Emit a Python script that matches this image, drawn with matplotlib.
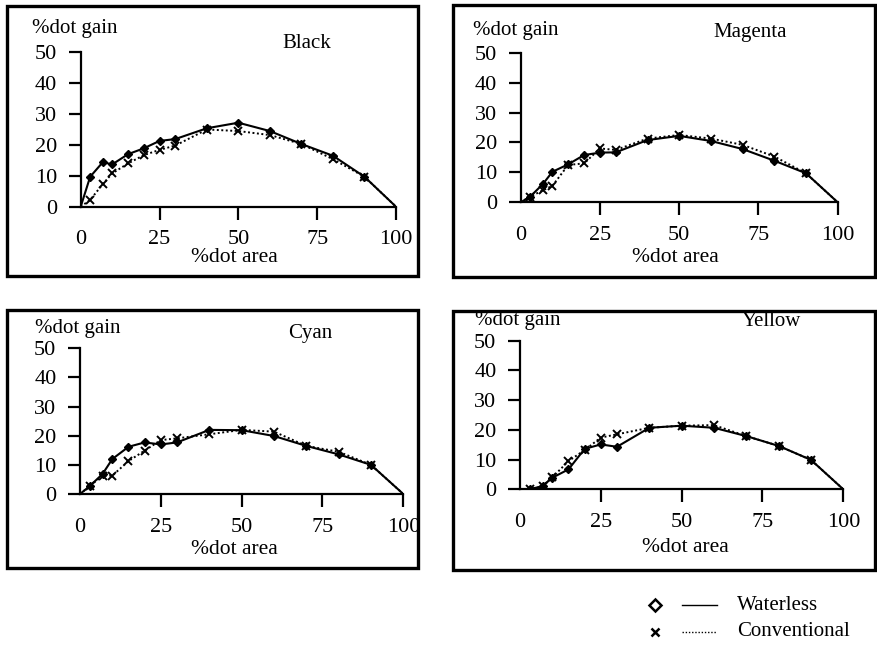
import matplotlib.pyplot as plt
from matplotlib.patches import Rectangle
from matplotlib.lines import Line2D

plt.rcParams['font.family'] = ['Liberation Serif', 'DejaVu Serif']

# Data
area = [0, 3, 7, 10, 15, 20, 25, 30, 40, 50, 60, 70, 80, 90, 100]
black_waterless = [0, 9.7, 14.4, 13.7, 17, 18.9, 21.3, 21.9, 25.4, 27.2, 24.5, 20.3, 16.5, 9.7, 0]
black_conventional = [0, 2.2, 7.3, 10.8, 14, 16.7, 18.4, 19.8, 25, 24.5, 23.2, 20.3, 15.4, 9.7, 0]
magenta_waterless = [0, 1.9, 6.1, 10.2, 12.7, 15.8, 16.6, 16.7, 20.8, 22.2, 20.5, 17.8, 13.9, 9.7, 0]
magenta_conventional = [0, 1.9, 4, 5.5, 12.5, 13, 18, 17.5, 21.3, 22.5, 21.3, 19.2, 15.3, 9.7, 0]
cyan_waterless = [0, 2.7, 6.9, 12, 16.2, 17.7, 17, 17.7, 22, 21.9, 19.9, 16.5, 13.6, 10, 0]
cyan_conventional = [0, 2.7, 6.3, 6.3, 11.3, 14.9, 18.5, 19.1, 20.5, 22, 21.4, 16.5, 14.5, 10, 0]
yellow_waterless = [0, 0, 1.1, 3.9, 6.7, 13.6, 15.1, 14.3, 20.7, 21.4, 20.7, 17.9, 14.6, 9.9, 0]
yellow_conventional = [0, 0, 1, 4, 9.5, 13.2, 17.4, 18.5, 20.7, 21.4, 21.6, 17.9, 14.6, 9.9, 0]

inks = ['Black', 'Magenta', 'Cyan', 'Yellow']
waterless = [black_waterless, magenta_waterless, cyan_waterless, yellow_waterless]
conventional = [black_conventional, magenta_conventional, cyan_conventional, yellow_conventional]
x_ticks = [0, 25, 50, 75, 100]
y_ticks = [0, 10, 20, 30, 40, 50]

W, H = 877, 650
def fx(x):
    return x / W
def fy(y):
    return 1 - y / H

# layout in pixels: axes (x0, x1, y_zero, y_fifty), frame (l, t, r, b), title centre, ylabel left, xlabel centre
layout = [
    dict(ax=(80.7, 396, 206.7, 52.3), frame=(7, 6, 418, 276), title=(307, 43), ylab=(32, 29), xlab=(234, 258)),
    dict(ax=(520.7, 837.7, 202.3, 52.7), frame=(453, 5, 875, 277), title=(750, 32), ylab=(473, 30), xlab=(675, 258)),
    dict(ax=(80, 403.3, 494, 348.3), frame=(7, 310, 418, 568), title=(310, 333), ylab=(35, 329), xlab=(234, 550)),
    dict(ax=(520, 843.3, 489.3, 340.7), frame=(453, 311, 875, 570), title=(771, 322), ylab=(475, 320), xlab=(685, 548)),
]

fig = plt.figure(figsize=(8.77, 6.5), dpi=100)

for i, ink in enumerate(inks):
    L = layout[i]
    x0, x1, yz, yf = L['ax']
    ax = fig.add_axes([fx(x0), fy(yz), (x1 - x0) / W, (yz - yf) / H])
    ax.plot(area, waterless[i], color='black', lw=1.5, linestyle='-',
            marker='D', ms=4, markevery=slice(1, -1))
    ax.plot(area, conventional[i], color='black', lw=1.4, linestyle=(0, (1, 1.3)),
            marker='x', ms=5.5, mew=1.4, markevery=slice(1, -1))
    ax.set_xlim(0, 100)
    ax.set_ylim(0, 50)
    ax.set_xticks(x_ticks)
    ax.set_yticks(y_ticks)
    ax.spines['top'].set_visible(False)
    ax.spines['right'].set_visible(False)
    ax.spines['left'].set_linewidth(1.6)
    ax.spines['bottom'].set_linewidth(1.6)
    ax.tick_params(axis='both', direction='out', length=9, width=1.6, labelsize=16, pad=8)
    ax.xaxis.get_major_ticks()[0].tick1line.set_visible(False)
    ax.patch.set_alpha(0)

    l, t, r, b = L['frame']
    fig.patches.append(Rectangle((fx(l), fy(b)), (r - l) / W, (b - t) / H, fill=False,
                                 edgecolor='black', lw=2.4, transform=fig.transFigure))
    fig.text(fx(L['title'][0]), fy(L['title'][1]), ink, ha='center', va='center', fontsize=15)
    fig.text(fx(L['ylab'][0]), fy(L['ylab'][1]), '%dot gain', ha='left', va='center', fontsize=15)
    fig.text(fx(L['xlab'][0]), fy(L['xlab'][1]), '%dot area', ha='center', va='center', fontsize=15.5)

# legend
for y, mk, ls, label in [(605, 'D', '-', 'Waterless'), (632, 'x', (0, (1, 1.3)), 'Conventional')]:
    fig.add_artist(Line2D([fx(655)], [fy(y)], marker=mk, ms=6, mfc='white', mec='black', mew=1.8,
                          transform=fig.transFigure))
    fig.add_artist(Line2D([fx(682), fx(717)], [fy(y), fy(y)], color='black', lw=1.0, linestyle=ls,
                          transform=fig.transFigure))
    fig.text(fx(737), fy(y), label, ha='left', va='center', fontsize=15)

fig.savefig('out.png', dpi=100, facecolor='white')
